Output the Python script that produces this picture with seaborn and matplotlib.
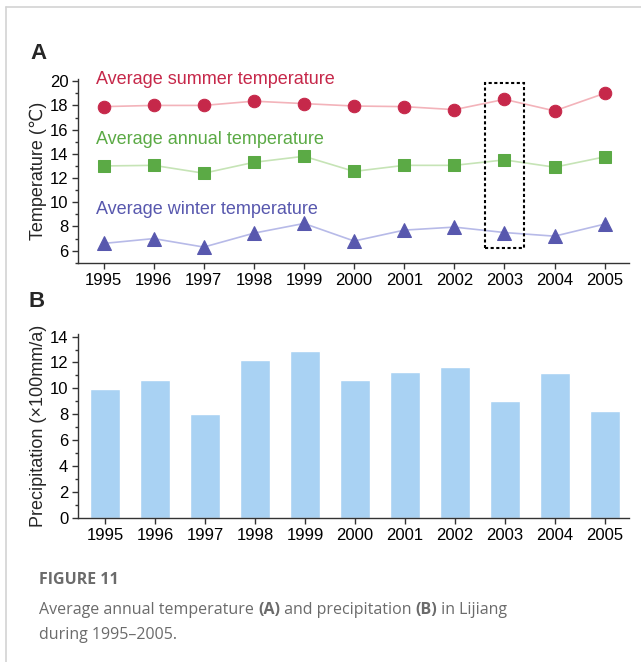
import matplotlib
matplotlib.use("Agg")
import matplotlib.pyplot as plt
import seaborn as sns
import pandas as pd
from matplotlib.lines import Line2D
from matplotlib.patches import Rectangle
from matplotlib.ticker import MultipleLocator

# values
years = [1995, 1996, 1997, 1998, 1999, 2000, 2001, 2002, 2003, 2004, 2005]
summer_temp = [17.9, 18.0, 18.0, 18.35, 18.15, 17.95, 17.9, 17.65, 18.5, 17.55, 19.0]
annual_temp = [13.0, 13.05, 12.4, 13.3, 13.8, 12.55, 13.05, 13.05, 13.5, 12.9, 13.75]
winter_temp = [6.6, 7.0, 6.3, 7.45, 8.25, 6.8, 7.7, 7.95, 7.5, 7.2, 8.2]
precip = [9.95, 10.67, 8.0, 12.18, 12.9, 10.67, 11.3, 11.65, 9.0, 11.16, 8.28]

series_names = ["Average summer temperature", "Average annual temperature",
                "Average winter temperature"]
marker_colors = ["#C6284A", "#5BAA45", "#5858AE"]
line_colors = ["#F3B3BA", "#C6E4B6", "#B7BAE8"]
markers = ["o", "s", "^"]
label_y = [20.15, 15.2, 9.4]

sns.set_theme(style="ticks")
plt.rcParams['font.family'] = ['Liberation Sans', 'DejaVu Sans']

fig = plt.figure(figsize=(6.41, 6.62), dpi=100)
ax1 = fig.add_axes([0.1217, 0.603, 0.86, 0.278])
ax2 = fig.add_axes([0.1217, 0.2175, 0.86, 0.278])

# panel A: temperatures
temps = [summer_temp, annual_temp, winter_temp]
for name, vals, mc, lc, mk, ly in zip(series_names, temps, marker_colors,
                                      line_colors, markers, label_y):
    df = pd.DataFrame({"year": years, "temp": vals})
    sns.lineplot(data=df, x="year", y="temp", ax=ax1, color=lc, linewidth=1.2,
                 marker=mk, markersize=9 if mk != "^" else 10,
                 markerfacecolor=mc, markeredgecolor=mc)
    ax1.text(1994.85, ly, name, color=mc, fontsize=13, va="center", ha="left")

ax1.add_patch(Rectangle((2003 - 0.385, 6.26), 0.77, 19.81 - 6.26, fill=False,
                        edgecolor="black", linestyle=(0, (1.5, 1.2)), linewidth=1.5,
                        zorder=5))
ax1.set_xlim(1994.49, 2005.49)
ax1.set_ylim(5, 20.2)
ax1.yaxis.set_major_locator(MultipleLocator(2))
ax1.yaxis.set_minor_locator(MultipleLocator(1))
ax1.set_yticks(range(6, 21, 2))
ax1.set_xticks(years)
ax1.set_xlabel("")
ax1.set_ylabel("Temperature (℃)", fontsize=13, labelpad=2)

# panel B: precipitation
dfp = pd.DataFrame({"year": years, "precip": precip})
sns.barplot(data=dfp, x="year", y="precip", ax=ax2, native_scale=True,
            color="#A9D2F3", saturation=1, width=0.6)
ax2.set_xlim(1994.45, 2005.49)
ax2.set_ylim(0, 14.2)
ax2.yaxis.set_major_locator(MultipleLocator(2))
ax2.yaxis.set_minor_locator(MultipleLocator(1))
ax2.set_xticks(years)
ax2.set_xlabel("")
ax2.set_ylabel("Precipitation (×100mm/a)", fontsize=13, labelpad=2)

for ax in (ax1, ax2):
    sns.despine(ax=ax)
    for s in ("left", "bottom"):
        ax.spines[s].set_color("#333333")
        ax.spines[s].set_linewidth(1.0)
    ax.tick_params(axis="both", which="major", labelsize=12, length=4,
                   width=1, color="#333333", pad=3, labelcolor="black")
    ax.tick_params(axis="y", which="minor", length=2.5, width=1, color="#333333")
    ax.set_xticklabels([str(y) for y in years])

fig.text(0.048, 0.919, "A", fontsize=16, fontweight="bold", va="center")
fig.text(0.045, 0.545, "B", fontsize=16, fontweight="bold", va="center")

# caption
cap = "#6B6B6B"
cap_font = ["Open Sans", "DejaVu Sans"]
fig.text(0.061, 0.124, "FIGURE 11", fontsize=11.5, fontweight="bold", color=cap,
         family=cap_font, va="center")
renderer = fig.canvas.get_renderer()
pieces = [("Average annual temperature ", "normal"), ("(A)", "bold"),
          (" and precipitation ", "normal"), ("(B)", "bold"),
          (" in Lijiang", "normal")]
x = 0.061
for txt, wt in pieces:
    t = fig.text(x, 0.0785, txt, fontsize=11.5, fontweight=wt, color=cap,
                 family=cap_font, va="center")
    bb = t.get_window_extent(renderer)
    x += bb.width / fig.bbox.width
fig.text(0.061, 0.041, "during 1995–2005.", fontsize=11.5, color=cap,
         family=cap_font, va="center")

# light frame around the figure
fig.add_artist(Line2D([0.0094, 0.0094], [0.0, 0.9894], color="#D3D3D3", linewidth=1.2))
fig.add_artist(Line2D([0.0094, 1.0], [0.9894, 0.9894], color="#D3D3D3", linewidth=1.2))

fig.savefig("out.png", dpi=100, facecolor="white")
